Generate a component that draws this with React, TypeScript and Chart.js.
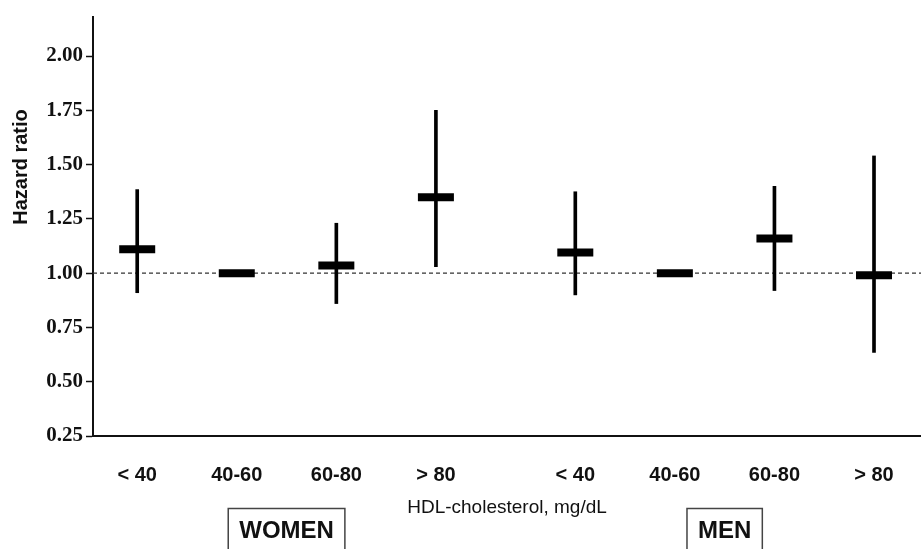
import React, { useEffect, useRef } from 'react';
import { Chart, registerables } from 'chart.js';

Chart.register(...registerables);

// ---- data ----
const categories = ['< 40', '40-60', '60-80', '> 80', '< 40', '40-60', '60-80', '> 80'];
const groups = ['WOMEN', 'WOMEN', 'WOMEN', 'WOMEN', 'MEN', 'MEN', 'MEN', 'MEN'];
const xSlots = [1, 2, 3, 4, 5.4, 6.4, 7.4, 8.4];
const hazardRatio = [1.11, 1.0, 1.035, 1.35, 1.095, 1.0, 1.16, 0.99];
const ciLower: (number | null)[] = [0.91, null, 0.86, 1.03, 0.9, null, 0.92, 0.635];
const ciUpper: (number | null)[] = [1.385, null, 1.23, 1.75, 1.375, null, 1.4, 1.54];
const yTickValues = [0.25, 0.5, 0.75, 1.0, 1.25, 1.5, 1.75, 2.0];
const referenceValue = 1.0;
const xAxisTitle = 'HDL-cholesterol, mg/dL';
const yAxisTitle = 'Hazard ratio';

const X_MIN = 0.556;
const X_MAX = 8.872;
const Y_MIN = 0.25;
const Y_MAX = 2.18;

const SANS = '"Liberation Sans", Arial, sans-serif';
const SERIF = '"Liberation Serif", "Times New Roman", serif';

const annotPlugin = {
  id: 'annot',
  afterDraw(chart: any) {
    const { ctx } = chart;
    const x = chart.scales.x;
    ctx.save();
    // y axis title
    ctx.font = `bold 20px ${SANS}`;
    ctx.fillStyle = '#111';
    ctx.textAlign = 'center';
    ctx.textBaseline = 'middle';
    ctx.translate(21, 167);
    ctx.rotate(-Math.PI / 2);
    ctx.fillText(yAxisTitle, 0, 0);
    ctx.restore();

    // group boxes
    ctx.save();
    const uniq = Array.from(new Set(groups));
    ctx.font = `bold 24px ${SANS}`;
    uniq.forEach((g) => {
      const idx = groups.map((gg, i) => (gg === g ? i : -1)).filter((i) => i >= 0);
      const cx = idx.reduce((s, i) => s + x.getPixelForValue(xSlots[i]), 0) / idx.length;
      const tw = ctx.measureText(g).width;
      const w = tw + 22;
      ctx.strokeStyle = '#444';
      ctx.lineWidth = 1.5;
      ctx.strokeRect(cx - w / 2, 508.5, w, 60);
      ctx.fillStyle = '#111';
      ctx.textAlign = 'center';
      ctx.textBaseline = 'alphabetic';
      ctx.fillText(g, cx, 538);
    });
    ctx.restore();
  },
};

export default function App() {
  const ref = useRef<HTMLCanvasElement | null>(null);

  useEffect(() => {
    if (!ref.current) return;
    const ciData = xSlots
      .map((x, i) => (ciLower[i] == null ? null : { x, y: [ciLower[i], ciUpper[i]] }))
      .filter((d) => d !== null);
    const markerData = xSlots.map((x, i) => ({ x, y: hazardRatio[i] }));
    const refData = [
      { x: X_MIN, y: referenceValue },
      { x: X_MAX, y: referenceValue },
    ];

    const chart = new Chart(ref.current, {
      type: 'bar',
      data: {
        datasets: [
          {
            type: 'line',
            data: markerData as any,
            showLine: false,
            pointStyle: 'line',
            pointRadius: 18,
            pointHoverRadius: 18,
            pointBorderWidth: 8,
            pointBorderColor: '#000',
            pointBackgroundColor: '#000',
            order: 0,
          } as any,
          {
            type: 'bar',
            data: ciData as any,
            backgroundColor: '#000',
            borderWidth: 0,
            barThickness: 3,
            order: 1,
          } as any,
          {
            type: 'line',
            data: refData as any,
            borderColor: '#333',
            borderWidth: 1.2,
            borderDash: [4, 3],
            pointRadius: 0,
            fill: false,
            order: 2,
          } as any,
        ],
      },
      options: {
        animation: false,
        responsive: true,
        maintainAspectRatio: false,
        layout: { autoPadding: false, padding: { top: 17, right: 0, bottom: 0, left: 0 } },
        plugins: {
          legend: { display: false },
          tooltip: { enabled: false },
        },
        scales: {
          x: {
            type: 'linear',
            min: X_MIN,
            max: X_MAX,
            offset: false,
            grid: { display: false, offset: false, drawTicks: false },
            border: { display: true, color: '#111', width: 2 },
            afterBuildTicks: (scale: any) => {
              scale.ticks = xSlots.map((v) => ({ value: v }));
            },
            afterFit: (scale: any) => {
              scale.height = 113;
              scale.paddingLeft = 0;
              scale.paddingRight = 0;
            },
            ticks: {
              autoSkip: false,
              maxRotation: 0,
              padding: 27,
              color: '#111',
              font: { family: SANS, size: 20, weight: 'bold' },
              callback: (_v: any, i: number) => categories[i],
            },
            title: {
              display: true,
              text: xAxisTitle,
              color: '#111',
              font: { family: SANS, size: 19, weight: 'normal' },
              padding: { top: 0, bottom: 30 },
            },
          } as any,
          y: {
            type: 'linear',
            min: Y_MIN,
            max: Y_MAX,
            afterBuildTicks: (scale: any) => {
              scale.ticks = yTickValues.map((v) => ({ value: v }));
            },
            afterFit: (scale: any) => {
              scale.width = 93;
              scale.paddingTop = 0;
              scale.paddingBottom = 0;
            },
            grid: {
              drawOnChartArea: false,
              drawTicks: true,
              tickLength: 7,
              tickColor: '#111',
              tickWidth: 1.5,
            },
            border: { display: true, color: '#111', width: 2 },
            ticks: {
              padding: 3,
              color: '#111',
              font: { family: SERIF, size: 21, weight: 'bold' },
              callback: (v: any) => Number(v).toFixed(2),
            },
          } as any,
        },
      },
      plugins: [annotPlugin],
    });
    return () => chart.destroy();
  }, []);

  return (
    <div style={{ position: 'fixed', left: 0, top: 0, width: 921, height: 549, background: '#fff' }}>
      <canvas ref={ref} />
    </div>
  );
}
